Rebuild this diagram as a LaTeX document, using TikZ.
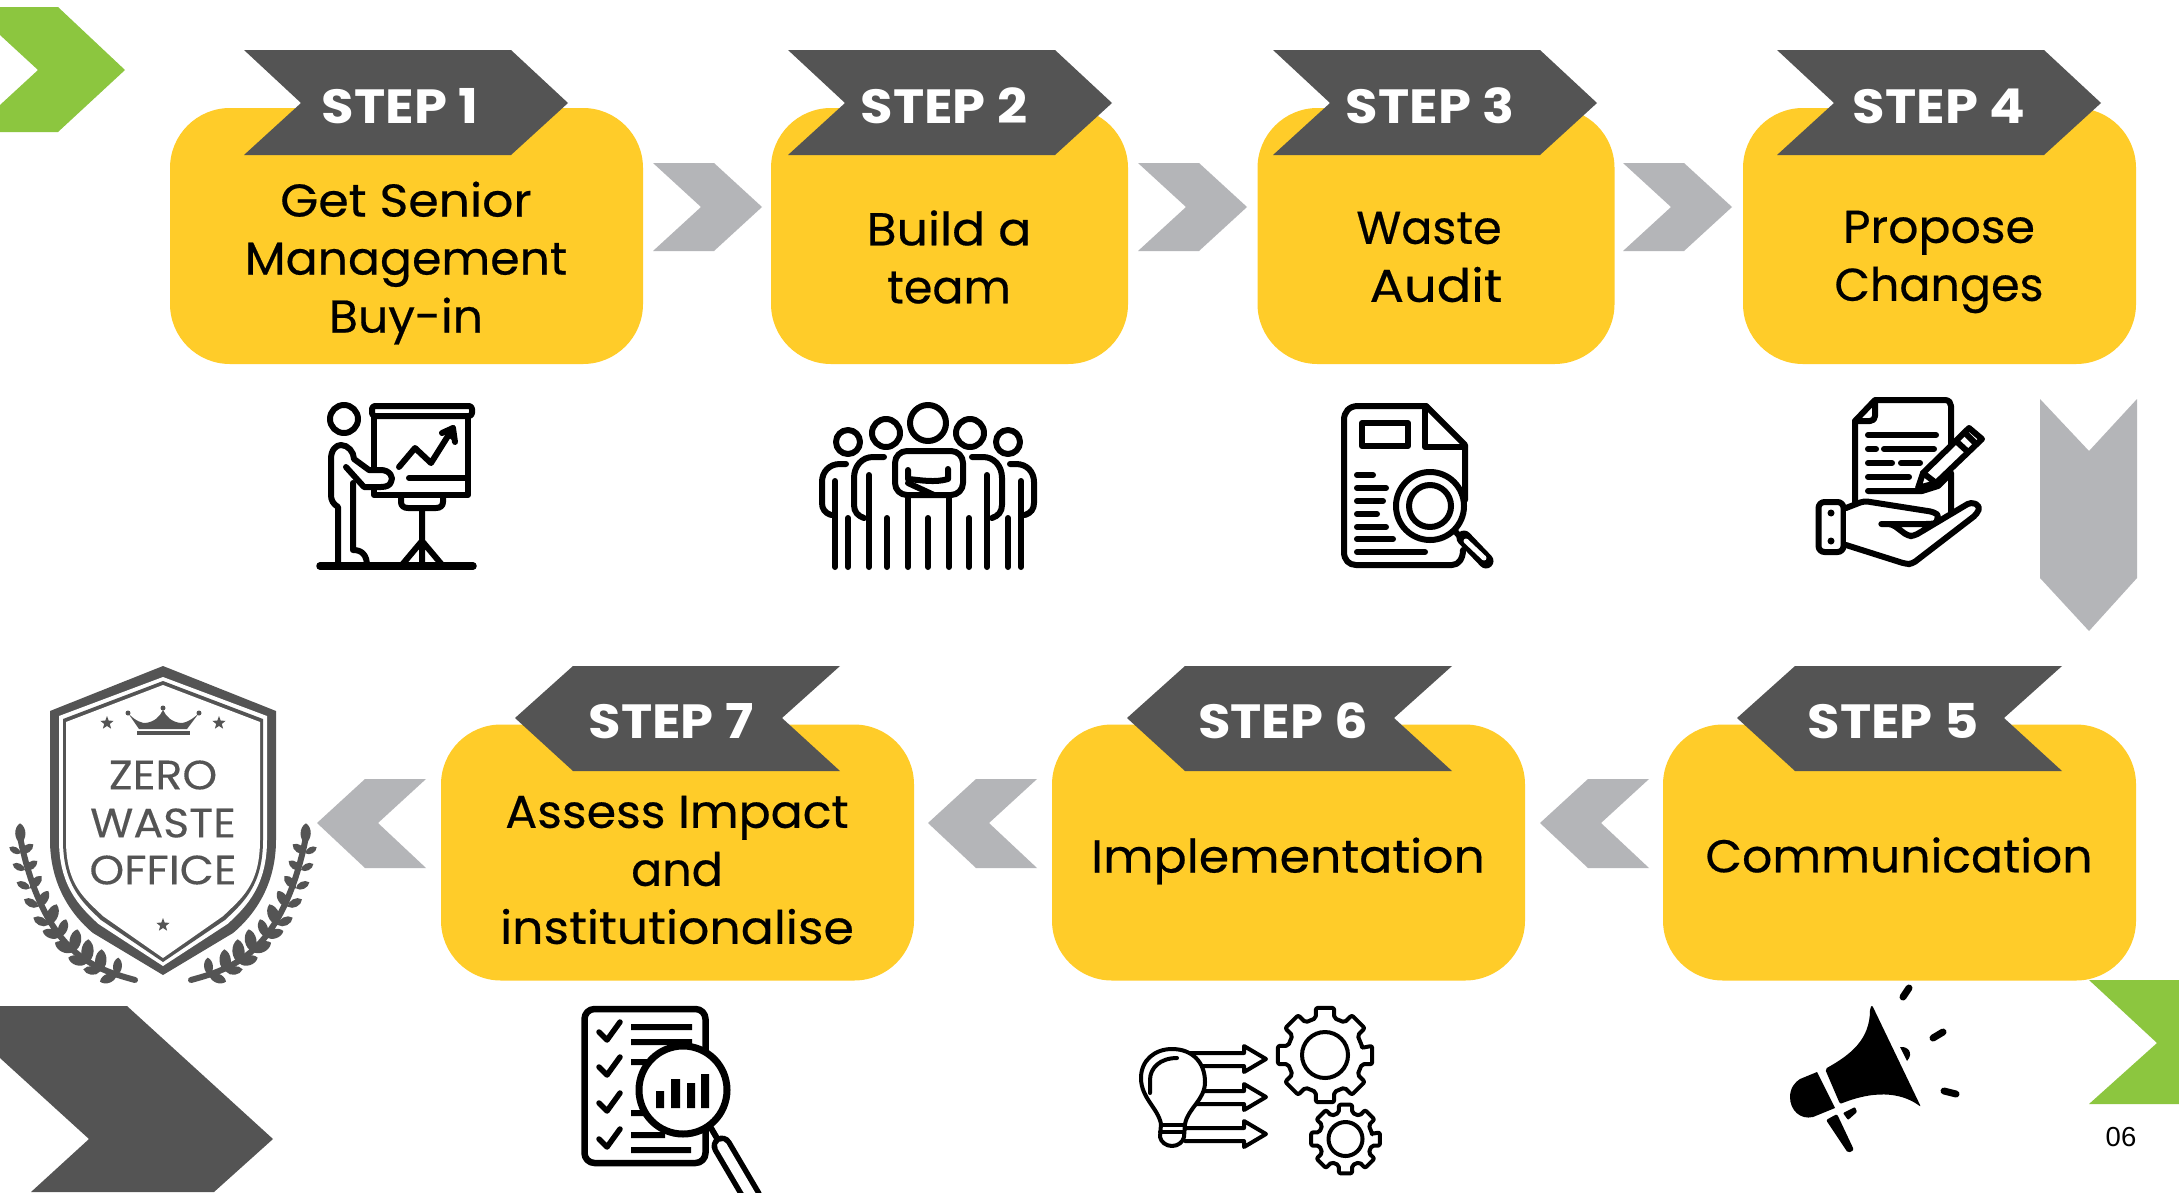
\documentclass[tikz,border=0pt]{standalone}
\usepackage{fontspec}
\setmainfont{Poppins}
\newfontfamily\lblfont[FakeBold=0.45]{Poppins}
\newfontfamily\lblmid[FakeBold=0.45,FakeStretch=1.03]{Poppins}
\newfontfamily\lblwide[FakeBold=0.45,FakeStretch=1.065]{Poppins}
\newfontfamily\lblxwide[FakeBold=0.45,FakeStretch=1.11]{Poppins}
\newfontfamily\stpfont[FakeStretch=1.1]{Poppins}
\newfontfamily\badgefont[FakeBold=0.2,FakeStretch=1.08]{Poppins}
\newfontfamily\numfont{Liberation Sans}
\newcommand{\M}[1]{{\lblmid #1}}
\newcommand{\W}[1]{{\lblwide #1}}
\newcommand{\XW}[1]{{\lblxwide #1}}
\definecolor{sunny}{HTML}{FFCC29}
\definecolor{slate}{HTML}{545454}
\definecolor{steel}{HTML}{B4B5B8}
\definecolor{leafgreen}{HTML}{8CC63F}
\tikzset{
  yellowbox/.style={fill=sunny,rounded corners=60pt,inner sep=0,minimum height=256pt},
  lbl/.style={font=\lblfont\fontsize{46}{58}\selectfont,align=center,inner sep=0,text=black},
  steplbl/.style={font=\stpfont\bfseries\fontsize{48}{48}\selectfont,inner sep=0,text=white},
  badgelbl/.style={font=\badgefont\fontsize{41}{46}\selectfont,inner sep=0,text=slate},
  ink/.style={draw=black,line width=6pt,line cap=round,line join=round},
  thinink/.style={draw=black,line width=4pt,line cap=round,line join=round},
}
\newcommand{\stepR}[1]{\fill[slate] (#1,50)--({#1+267},50)--({#1+324},103)--({#1+267},155)--(#1,155)--({#1+57},103)--cycle;}
\newcommand{\stepL}[1]{\fill[slate] (#1,718)--({#1+58},666)--({#1+325},666)--({#1+267},718)--({#1+325},771)--({#1+58},771)--cycle;}
\newcommand{\chevR}[1]{\fill[steel] (#1,163)--({#1+61},163)--({#1+109},207)--({#1+61},251)--(#1,251)--({#1+48},207)--cycle;}
\newcommand{\chevL}[1]{\fill[steel] (#1,823)--({#1+48},779)--({#1+109},779)--({#1+61},823)--({#1+109},868)--({#1+48},868)--cycle;}
\newcommand{\shieldlayer}[5]{\fill[#5] (163,#1)--({163+#2},#3)--({163+#2},840) .. controls ({163+#2},885) and ({163+#2*0.81},{#4-60}) .. ({163+#2*0.62},{#4-42})--(163,#4)--({163-#2*0.62},{#4-42}) .. controls ({163-#2*0.81},{#4-60}) and ({163-#2},885) .. ({163-#2},840)--({163-#2},#3)--cycle;}
\newcommand{\starat}[3]{\fill[slate] ({#1+#3*cos(90)},{#2-#3*sin(90)})
  \foreach \k in {1,...,9}{ -- ({#1+(mod(\k,2)==0?#3:#3*0.42)*cos(90+36*\k)},{#2-(mod(\k,2)==0?#3:#3*0.42)*sin(90+36*\k)}) } -- cycle;}
\newcommand{\leafat}[4]{\fill[slate] (#1,#2) to[bend left=60] (#3,#4) to[bend left=60] (#1,#2);}
\newcommand{\gearat}[5]{\begin{scope}[shift={(#1,#2)}]
  \draw[draw=black,line width=4pt,line join=round,rounded corners=2pt]
    (-11:#4) \foreach \a in {0,45,...,315}{ -- (\a-11:#3) -- (\a+11:#3) -- (\a+14:#4) -- (\a+31:#4) } -- cycle;
  \draw[draw=black,line width=4pt] (0,0) circle[radius=#5];
\end{scope}}
\newcommand{\outarrow}[1]{\draw[thinink,fill=white] (1185,{#1-6})--(1244,{#1-6})--(1244,{#1-13})--(1266,#1)--(1244,{#1+13})--(1244,{#1+7})--(1185,{#1+7});}
\begin{document}
\begin{tikzpicture}[x=1pt,y=-1pt]
\useasboundingbox (0,0) rectangle (2179,1192);
\fill[white] (0,0) rectangle (2179,1192);

% decorative chevrons
\fill[leafgreen] (0,7)--(58,7)--(125,70)--(58,132)--(0,132)--(0,105)--(38,70)--(0,35)--cycle;
\fill[leafgreen] (2089,980)--(2179,980)--(2179,1104)--(2089,1104)--(2157,1043)--cycle;
\fill[slate] (0,1006)--(127,1006)--(273,1139)--(214,1192)--(31,1192)--(89,1139)--(0,1058)--cycle;

% yellow boxes
\node[yellowbox,minimum width=473pt] (box1) at (406.5,236) {};
\node[yellowbox,minimum width=357pt] (box2) at (949.5,236) {};
\node[yellowbox,minimum width=357pt] (box3) at (1436,236) {};
\node[yellowbox,minimum width=393pt] (box4) at (1939.5,236) {};
\node[yellowbox,minimum width=473pt] (box5) at (1899.5,852.5) {};
\node[yellowbox,minimum width=473pt] (box6) at (1288.5,852.5) {};
\node[yellowbox,minimum width=473pt] (box7) at (677.5,852.5) {};

% banners
\stepR{244}\stepR{788}\stepR{1273}\stepR{1777}
\stepL{1737}\stepL{1127}\stepL{515}

% gray chevrons
\chevR{653}\chevR{1138}\chevR{1623}
\chevL{1540}\chevL{928}\chevL{317}
\fill[steel] (2040,399)--(2089,451)--(2137,399)--(2137,578)--(2089,631)--(2040,578)--cycle;

% step labels
\node[steplbl] (s1) at (400,106) {STEP 1};
\node[steplbl] (s2) at (944,106) {STEP 2};
\node[steplbl] (s3) at (1430,106) {STEP 3};
\node[steplbl] (s4) at (1939,106) {STEP 4};
\node[steplbl] (s5) at (1893,721) {STEP 5};
\node[steplbl] (s6) at (1283,721) {STEP 6};
\node[steplbl] (s7) at (671,721) {STEP 7};

% box labels
\node[lbl] (t1) at (406,263) {\W{Get Senior}\\\M{Management}\\\M{Buy-in}};
\node[lbl] (t2) at (949,257) {\W{Build a}\\team};
\node[lbl] (t3) at (1436,257) {Waste\hspace*{14pt}\\\XW{Audit}};
\node[lbl] (t4) at (1939,262) {\M{Propose}\\Changes};
\node[lbl] (t5) at (1899,855) {\M{Communication}};
\node[lbl] (t6) at (1288,861) {\W{Implementation}};
\node[lbl] (t7) at (677,870) {\M{Assess Impact}\\and\\\W{institutionalise}};

% badge
\shieldlayer{666}{113}{711}{975}{slate}
\shieldlayer{677}{104}{716}{966}{white}
\shieldlayer{681}{100}{719}{962}{slate}
\shieldlayer{685}{97}{722}{958}{white}
\fill[slate] (128,713) .. controls (136,722) and (143,723) .. (145,723) .. controls (155,722) and (160,716) .. (163,710) .. controls (166,716) and (171,722) .. (181,723) .. controls (183,723) and (190,722) .. (199,713) -- (187,729) -- (139,729) -- cycle;
\fill[slate] (128,713) circle[radius=2.5] (199,713) circle[radius=2.5] (163,708) circle[radius=2.5];
\fill[slate] (137,731) rectangle (190,734.5);
\starat{107}{723}{7}\starat{219}{723}{7}\starat{163}{925}{7}
\node[badgelbl] (z1) at (163,775) {ZERO};
\node[badgelbl] (z2) at (163,823) {WASTE};
\node[badgelbl] (z3) at (163,870) {OFFICE};
\foreach \m in {0,1}{
\begin{scope}[xshift=\m*326pt,xscale={1-2*\m},shift={(0,650)},scale=0.3333]
  \draw[slate,line width=6pt,line cap=round] (60,560) .. controls (85,690) and (140,850) .. (250,925) .. controls (300,960) and (350,975) .. (405,990);
  \leafat{62}{580}{60}{520}
  \leafat{62}{610}{28}{592}\leafat{75}{660}{38}{642}\leafat{90}{715}{50}{697}\leafat{115}{770}{72}{748}\leafat{145}{825}{100}{803}
  \leafat{180}{860}{128}{843}\leafat{220}{905}{165}{878}\leafat{260}{940}{205}{923}\leafat{300}{965}{250}{958}\leafat{350}{975}{300}{995}
  \leafat{62}{610}{100}{583}\leafat{75}{660}{112}{633}\leafat{90}{715}{125}{678}\leafat{115}{770}{145}{723}\leafat{145}{825}{170}{763}
  \leafat{180}{860}{198}{808}\leafat{220}{905}{232}{838}\leafat{260}{940}{265}{868}\leafat{300}{965}{305}{898}\leafat{350}{975}{355}{923}
\end{scope}}

% icon 1: presenter
\begin{scope}[ink]
  \draw (344,419) circle[radius=14];
  \draw[rounded corners=3pt] (372,406) rectangle (472,416);
  \draw (374,416)--(374,467) (374,487)--(374,495)--(468,495)--(468,416);
  \draw (399,467)--(415,448)--(431,463)--(453,428);
  \draw[fill=black] (442,433)--(453,428)--(455,442);
  \draw (409,478)--(466,478);
  \draw (401,495)--(401,502) .. controls (401,506) and (404,508) .. (408,508)--(436,508) .. controls (440,508) and (443,506) .. (443,502)--(443,495);
  \draw (422,508)--(422,566) (422,541)--(401,566) (422,541)--(443,566);
  \draw[line width=7.5pt] (320,566)--(473,566);
  \draw (338,566)--(338,507) .. controls (333,504) and (331,500) .. (331,495)--(331,459) .. controls (331,450) and (336,445) .. (341,445) .. controls (348,445) and (354,452) .. (354,459)--(369,470)--(381,470) .. controls (390,470) and (394,478) .. (391,482) .. controls (390,485) and (387,487) .. (381,487)--(364,487)--(346,467);
  \draw (353,483)--(353,550) .. controls (362,550) and (367,555) .. (367,566);
\end{scope}

% icon 2: team
\begin{scope}[ink]
  \draw (928,423) circle[radius=18];
  \draw[rounded corners=12pt] (895,451) rectangle (963,495);
  \draw (908,470)--(908,479) .. controls (920,480) and (935,483) .. (948,479)--(948,469);
  \draw (908,483)--(934,495);
  \draw (908,495)--(908,567) (928,518)--(928,567) (949,495)--(949,567);
  \foreach \m in {0,1}{
  \begin{scope}[xshift=\m*1856pt,xscale={1-2*\m}]
    \draw (886,433) circle[radius=14];
    \draw (848,442) circle[radius=12];
    \draw (884,457)--(873,457) .. controls (862,457) and (854,466) .. (854,478)--(854,505) .. controls (854,512) and (858,516) .. (864,518);
    \draw (869,475)--(869,567) (887,518)--(887,567);
    \draw (846,464)--(840,464) .. controls (829,464) and (822,472) .. (822,482)--(822,503) .. controls (822,509) and (825,513) .. (831,515);
    \draw (835,481)--(835,567) (848,518)--(848,567);
  \end{scope}}
\end{scope}

% icon 3: document audit
\begin{scope}[ink]
  \draw (1426,406)--(1358,406) .. controls (1349,406) and (1344,412) .. (1344,420)--(1344,552) .. controls (1344,560) and (1349,565) .. (1356,565)--(1452,565) .. controls (1459,565) and (1463,558) .. (1463,550);
  \draw (1426,406)--(1465,445)--(1465,500);
  \draw (1425,406)--(1425,447)--(1465,447);
  \draw (1362,423) rectangle (1408,446);
  \draw (1357,475)--(1373,475) (1357,488)--(1386,488) (1357,501)--(1383,501) (1357,514)--(1377,514) (1357,527)--(1386,527) (1357,539)--(1393,539) (1357,552)--(1425,552);
  \draw[fill=white] (1430,506) circle[radius=34];
  \draw (1430,506) circle[radius=21];
  \draw (1455,531)--(1461,538);
  \draw[line width=15pt] (1464,538)--(1486,561);
  \draw[white,line width=5pt] (1466,541)--(1484,558);
\end{scope}

% icon 4: document in hand
\begin{scope}[ink]
  \draw (1855,502)--(1855,421)--(1875,400)--(1945,400) .. controls (1949,400) and (1951,403) .. (1951,406)--(1951,449) (1951,473)--(1951,512);
  \draw (1875,402)--(1875,416) .. controls (1875,419) and (1873,421) .. (1870,421)--(1855,421);
  \draw (1868,435)--(1936,435) (1868,449)--(1876,449) (1884,449)--(1934,449) (1868,463)--(1892,463) (1901,463)--(1920,463) (1868,477)--(1909,477);
  \draw (1868,491)--(1922,491)--(1938,486)--(1949,475);
  \draw[fill=white] (1923,473)--(1969,428)--(1982,439)--(1936,483)--(1918,488)--cycle;
  \draw (1923,473)--(1936,483) (1956,441)--(1968,452) (1965,433)--(1976,444);
  \draw[rounded corners=6pt] (1818.5,502) rectangle (1843.5,552);
  \fill[black] (1831,513) circle[radius=3.5] (1831,541) circle[radius=3.5];
  \draw[fill=white,rounded corners=4pt] (1846,508)--(1864,501)--(1934,512) .. controls (1938,515) and (1938,523) .. (1930,524)--(1879,524)--(1892,524)--(1908,536)--(1914,536)--(1971,502)--(1980,506)--(1977,514)--(1912,564)--(1906,564)--(1846,545);
\end{scope}

% icon 5: checklist
\begin{scope}
  \clip (560,990) rectangle (800,1192);
  \begin{scope}[ink]
    \draw[rounded corners=10pt,fill=white,line width=6.5pt] (584.5,1009) rectangle (705.5,1163);
    \foreach \y in {1032,1067,1103,1139}{
      \draw[line width=5.5pt] (599,\y)--(607,{\y+8})--(620,{\y-10});
    }
  \end{scope}
  \fill[black] (631,1024) rectangle (692,1030) (631,1039) rectangle (692,1045) (631,1059) rectangle (665,1065) (631,1110) rectangle (665,1116) (631,1132) rectangle (665,1138) (631,1147) rectangle (691,1153);
  \draw[ink,line width=7pt,fill=white] (683,1090) circle[radius=44];
  \fill[black] (656,1091) rectangle (664,1108) (671,1079) rectangle (680,1108) (687,1083) rectangle (695,1108) (701,1074) rectangle (709,1108);
  \draw[ink] (711,1128)--(718,1140);
  \draw[line width=21pt,line cap=round] (722,1146)--(752,1197);
  \draw[white,line width=10pt,line cap=round] (722,1146)--(752,1197);
\end{scope}

% icon 6: bulb and gears
\outarrow{1059}\outarrow{1097}\outarrow{1134}
\draw[thinink,fill=white] (1161,1124) .. controls (1158,1108) and (1141,1098) .. (1141,1078) .. controls (1141,1060) and (1155,1049) .. (1172,1049) .. controls (1192,1049) and (1205,1062) .. (1205,1082) .. controls (1205,1100) and (1188,1108) .. (1185,1124)--(1184,1137) .. controls (1183,1142) and (1178,1146) .. (1172,1146) .. controls (1166,1146) and (1161,1142) .. (1160,1137)--cycle;
\draw[thinink] (1177,1058) .. controls (1160,1058) and (1150,1068) .. (1150,1080)--(1150,1093);
\draw[thinink] (1161,1125)--(1185,1125) (1160,1132)--(1184,1132);
\gearat{1325}{1055}{48}{38}{23}
\gearat{1345.5}{1139}{35}{27}{17}

% icon 7: megaphone
\begin{scope}[black,line join=round]
  \fill[rounded corners=2pt] (1872,1005)--(1921,1107) .. controls (1905,1095) and (1880,1088) .. (1840,1104)--(1825,1069) .. controls (1850,1055) and (1870,1040) .. (1870,1008)--cycle;
  \fill (1817,1072)--(1835,1108)--(1813,1117) .. controls (1800,1120) and (1790,1110) .. (1790,1097) .. controls (1790,1088) and (1795,1082) .. (1800,1079)--cycle;
  \fill[rounded corners=2pt] (1826,1120)--(1837,1114)--(1854,1150)--(1848,1153)--cycle;
  \fill[rounded corners=1pt] (1843,1113)--(1855,1107)--(1857,1112)--(1848,1120)--cycle;
  \fill (1900,1047) .. controls (1908,1046) and (1914,1053) .. (1907,1061)--cycle;
  \draw[line width=7pt,line cap=round] (1903,997)--(1909,988) (1933,1038)--(1943,1032) (1944,1091)--(1956,1094);
\end{scope}

% page number
\node[inner sep=0,font=\numfont\fontsize{27.5}{30}\selectfont,text=black] (pg) at (2121,1137) {06};
\end{tikzpicture}
\end{document}
